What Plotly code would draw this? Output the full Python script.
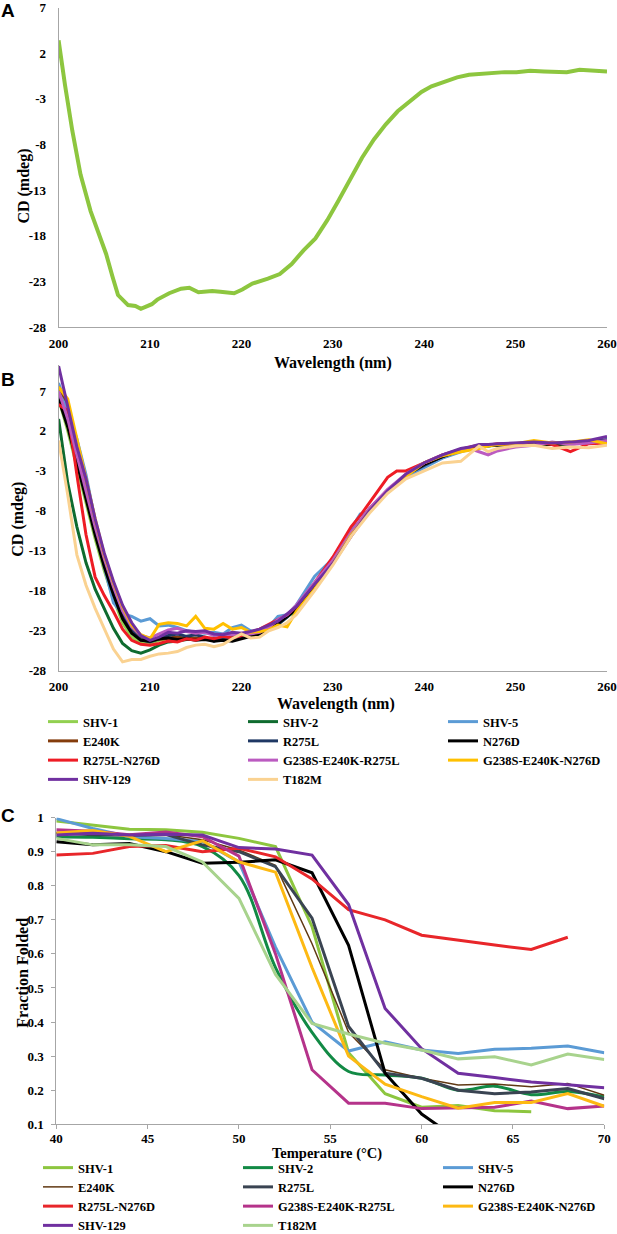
import plotly.graph_objects as go

W, H = 617, 1234

# ---- panel A : SHV-1 far-UV CD spectrum ----
wl_a = [200, 200.3, 200.7, 201.5, 202.4, 203.5, 204.3, 205.2, 205.9, 206.5,
        207.6, 208.4, 209, 210.2, 210.8, 212.1, 213.4, 214.3, 215.3, 216.8,
        217.7, 219.2, 220.1, 221.2, 222.9, 224.2, 225.5, 226.8, 228.1, 229.4,
        230.6, 231.9, 233.2, 234.5, 235.8, 237.1, 238.4, 239.7, 240.8, 242.3,
        243.6, 244.9, 246.2, 247.5, 248.8, 250.1, 251.6, 253.1, 254.4, 255.6,
        257, 258.3, 260]
cd_a = [3.4, 1.1, -1.5, -6.5, -11.3, -15.3, -17.4, -20.0, -22.5, -24.5,
        -25.6, -25.7, -26.0, -25.5, -25.0, -24.3, -23.8, -23.7, -24.2, -24.05,
        -24.15, -24.3, -23.9, -23.25, -22.7, -22.2, -21.1, -19.6, -18.3, -16.3,
        -14.2, -11.8, -9.45, -7.45, -5.8, -4.37, -3.28, -2.26, -1.64, -1.1,
        -0.66, -0.37, -0.26, -0.12, -0.08, -0.08, 0.06, -0.01, -0.04, -0.08,
        0.17, 0.06, -0.01]

# ---- panel B : CD spectra of all variants ----
wl_b = [200, 201, 202, 203, 204, 205, 206, 207, 208, 209, 210, 211, 212, 213,
        214, 215, 216, 217, 218, 219, 220, 221, 222, 223, 224, 225, 226, 228,
        230, 232, 233, 234, 236, 237, 238, 240, 242, 244, 245, 246, 247, 248,
        250, 252, 254, 256, 258, 260]

b_shv1 = [6.0, 2.0, -2.5, -7.0, -11.5, -15.5, -19.0, -22.0, -23.8, -24.5, -24.6, -24.2,
          -24.0, -23.9, -23.8, -24.0, -24.1, -24.0, -24.1, -23.9, -23.7, -23.5, -23.3,
          -22.9, -22.2, -21.3, -20.4, -17.6, -14.5, -11.0, -9.5, -8.0, -5.6, -4.6, -3.6,
          -2.3, -1.3, -0.5, -0.2, 0.0, 0.1, 0.2, 0.3, 0.4, 0.3, 0.4, 0.5, 0.7]
b_shv2 = [3.5, -4.5, -10.0, -14.5, -17.8, -20.3, -22.7, -24.6, -25.5, -25.8, -25.4, -24.8,
          -24.4, -24.3, -24.1, -24.0, -24.0, -23.9, -24.0, -23.8, -23.6, -23.5, -23.4,
          -22.9, -22.1, -21.2, -20.4, -17.5, -14.4, -10.9, -9.4, -7.9, -5.5, -4.6, -3.6,
          -2.3, -1.3, -0.5, -0.2, 0.0, 0.1, 0.3, 0.4, 0.4, 0.3, 0.5, 0.5, 0.8]
b_shv5 = [8.0, 4.5, 1.0, -3.5, -9.5, -15.0, -19.5, -20.9, -21.2, -21.8, -21.5, -22.4,
          -22.3, -22.6, -23.0, -23.2, -23.3, -23.2, -23.4, -22.6, -22.3, -23.0, -23.3,
          -22.5, -21.2, -21.0, -19.8, -16.2, -14.0, -10.3, -8.4, -8.1, -5.6, -4.7, -3.8,
          -2.6, -1.4, -0.6, -0.3, 0.0, 0.2, 0.3, 0.4, 0.5, 0.5, 0.6, 0.7, 0.9]
b_e240k = [7.5, 5.5, 0.5, -4.5, -9.5, -14.0, -17.5, -20.7, -22.8, -23.8, -24.2, -24.1,
           -23.9, -23.8, -24.0, -23.9, -24.0, -24.1, -23.9, -24.0, -23.8, -23.5, -23.3,
           -22.8, -22.0, -21.1, -20.2, -17.3, -14.2, -10.9, -9.4, -7.9, -5.5, -4.5, -3.5,
           -2.2, -1.2, -0.5, -0.2, 0.1, 0.2, 0.3, 0.4, 0.5, 0.4, 0.5, 0.6, 0.8]
b_r275l = [6.5, 3.0, -1.5, -6.0, -10.5, -14.5, -18.0, -21.0, -23.0, -24.1, -24.4, -24.0,
           -23.6, -23.4, -23.7, -23.5, -23.8, -24.3, -23.8, -24.0, -23.8, -23.6, -23.3,
           -22.7, -22.2, -21.3, -20.2, -17.4, -14.4, -10.9, -9.4, -7.8, -5.5, -4.5, -3.5,
           -2.3, -1.2, -0.4, -0.1, 0.1, 0.2, 0.3, 0.4, 0.5, 0.4, 0.5, 0.6, 0.9]
b_n276d = [6.0, 2.5, -2.0, -6.5, -11.0, -15.0, -18.5, -21.5, -23.3, -24.2, -24.3, -24.0,
           -23.9, -24.1, -24.0, -24.2, -24.1, -24.3, -24.2, -24.3, -24.0, -23.7, -23.4,
           -22.8, -22.1, -21.2, -20.3, -17.4, -14.3, -10.8, -9.3, -7.8, -5.4, -4.5, -3.5,
           -2.2, -1.2, -0.4, -0.2, 0.1, 0.2, 0.2, 0.3, 0.4, 0.3, 0.4, 0.5, 0.7]
b_r275l_n276d = [5.3, 4.5, -3.5, -11.0, -16.3, -18.6, -20.6, -22.8, -24.2, -24.7, -24.8, -24.6,
                 -24.3, -24.4, -24.0, -24.2, -23.8, -24.0, -23.7, -23.9, -23.6, -23.2, -22.8,
                 -22.2, -21.6, -21.0, -20.0, -17.0, -13.8, -10.0, -8.6, -7.0, -3.8, -3.0, -3.0,
                 -2.0, -1.0, -0.3, 0.0, 0.2, 0.2, 0.4, 0.3, 0.7, 0.3, -0.6, 0.4, 0.5]
b_g238s_r275l = [7.0, 3.5, -1.0, -5.5, -10.0, -14.0, -17.5, -20.5, -22.5, -23.6, -23.9, -23.4,
                 -22.9, -22.7, -23.1, -23.3, -23.2, -23.6, -23.4, -23.5, -23.3, -23.4, -23.2,
                 -22.6, -21.6, -21.0, -19.8, -17.0, -14.2, -10.7, -9.2, -7.7, -5.3, -4.4, -3.4,
                 -2.0, -1.0, -0.3, -0.2, -0.6, -1.0, -0.5, 0.0, 0.2, 0.6, 0.3, 0.5, 0.8]
b_g238s_n276d = [7.5, 6.0, 1.0, -4.0, -9.0, -13.5, -17.0, -20.0, -22.3, -23.5, -24.0, -22.2,
                 -22.0, -22.1, -22.4, -21.2, -22.7, -22.8, -22.1, -22.8, -22.6, -23.2, -23.1,
                 -22.9, -22.3, -22.5, -20.6, -17.8, -14.6, -11.0, -9.6, -8.0, -5.6, -4.8, -3.7,
                 -2.0, -1.1, -0.6, -0.4, -0.2, 0.1, 0.3, 0.4, 0.8, 0.5, 0.6, 0.9, 0.4]
b_shv129 = [10.1, 5.0, 0.0, -4.0, -9.0, -13.3, -16.8, -19.8, -22.0, -23.6, -24.2, -23.8,
            -23.2, -23.3, -23.0, -23.1, -23.0, -23.4, -23.5, -23.2, -23.3, -23.1, -22.8,
            -22.3, -21.8, -20.9, -20.0, -17.2, -14.6, -11.2, -9.6, -8.0, -5.5, -4.4, -3.4,
            -2.0, -1.0, -0.2, 0.0, 0.3, 0.3, 0.4, 0.5, 0.6, 0.5, 0.6, 0.8, 1.3]
b_t182m = [0.8, -6.0, -13.5, -17.3, -20.2, -22.8, -25.3, -26.9, -26.6, -26.6, -26.2, -25.9,
           -25.8, -25.6, -25.1, -24.8, -24.7, -25.0, -24.7, -24.0, -23.4, -23.9, -23.8,
           -23.0, -22.6, -22.0, -21.0, -18.0, -14.8, -11.2, -9.8, -8.3, -5.8, -4.9, -4.0,
           -3.0, -2.0, -1.8, -0.8, 0.1, -0.6, -0.2, 0.1, 0.2, -0.2, 0.0, -0.1, 0.2]

# ---- panel C : thermal denaturation ----
temps = [40, 42, 44, 46, 48, 50, 52, 54, 56, 58, 60, 62, 64, 66, 68, 70]

c_shv1 = [0.99, 0.978, 0.966, 0.964, 0.957, 0.939, 0.915, 0.68, 0.31, 0.19, 0.15, 0.155, 0.14, 0.137]
c_shv2 = [0.944, 0.942, 0.938, 0.935, 0.915, 0.83, 0.56, 0.37, 0.255, 0.245, 0.235, 0.2, 0.212, 0.187, 0.196, 0.18]
c_shv5 = [0.997, 0.968, 0.944, 0.939, 0.93, 0.87, 0.62, 0.40, 0.315, 0.342, 0.318, 0.308, 0.32, 0.323, 0.33, 0.31]
c_e240k = [0.955, 0.955, 0.95, 0.95, 0.935, 0.905, 0.86, 0.63, 0.37, 0.26, 0.235, 0.215, 0.218, 0.21, 0.22, 0.185]
c_r275l = [0.955, 0.95, 0.948, 0.95, 0.92, 0.9, 0.856, 0.705, 0.387, 0.25, 0.235, 0.2, 0.19, 0.195, 0.205, 0.175]
c_n276d = [0.929, 0.92, 0.924, 0.9, 0.866, 0.869, 0.876, 0.838, 0.625, 0.25, 0.13, 0.055]
c_r275l_n276d = [0.89, 0.895, 0.915, 0.918, 0.9, 0.91, 0.885, 0.82, 0.73, 0.70, 0.655, 0.64, 0.626, 0.613, 0.649]
c_g238s_r275l = [0.964, 0.96, 0.95, 0.958, 0.944, 0.887, 0.60, 0.26, 0.162, 0.162, 0.146, 0.147, 0.15, 0.168, 0.146, 0.154]
c_g238s_n276d = [0.955, 0.962, 0.945, 0.90, 0.932, 0.87, 0.84, 0.56, 0.30, 0.218, 0.181, 0.147, 0.164, 0.164, 0.19, 0.153]
c_shv129 = [0.949, 0.954, 0.949, 0.951, 0.949, 0.912, 0.908, 0.89, 0.745, 0.44, 0.322, 0.25, 0.237, 0.224, 0.216, 0.207]
c_t182m = [0.939, 0.92, 0.92, 0.915, 0.87, 0.763, 0.54, 0.396, 0.365, 0.338, 0.318, 0.292, 0.298, 0.274, 0.306, 0.29]

names = ["SHV-1", "SHV-2", "SHV-5", "E240K", "R275L", "N276D", "R275L-N276D",
         "G238S-E240K-R275L", "G238S-E240K-N276D", "SHV-129", "T182M"]

colors_b = ["#92D050", "#0F6B2F", "#5B9BD5", "#843C0C", "#1F3864", "#000000",
            "#EE1C25", "#BB5BC0", "#FFC000", "#7030A0", "#FAD291"]
colors_c = ["#8DC63F", "#128A45", "#5B9BD5", "#603913", "#3A4452", "#000000",
            "#E8262A", "#B5338A", "#FDB913", "#7030A0", "#A8D38D"]

b_series = [b_shv1, b_shv2, b_shv5, b_e240k, b_r275l, b_n276d, b_r275l_n276d,
            b_g238s_r275l, b_g238s_n276d, b_shv129, b_t182m]
c_series = [c_shv1, c_shv2, c_shv5, c_e240k, c_r275l, c_n276d, c_r275l_n276d,
            c_g238s_r275l, c_g238s_n276d, c_shv129, c_t182m]

ticks_cd = [-28, -23, -18, -13, -8, -3, 2, 7]
ticks_wl = [200, 210, 220, 230, 240, 250, 260]
ticks_ff = [0.1, 0.2, 0.3, 0.4, 0.5, 0.6, 0.7, 0.8, 0.9, 1.0]
ticks_t = [40, 45, 50, 55, 60, 65, 70]


def px(x):
    return x / W


def py(y):
    return 1 - y / H


SERIF = "Liberation Serif, Times New Roman, DejaVu Serif, serif"
tick_font = dict(family=SERIF, size=13, color="black", weight="bold")
leg_font = dict(family=SERIF, size=12.5, color="black", weight="bold")

fig = go.Figure()

fig.add_trace(go.Scatter(x=wl_a, y=cd_a, mode="lines", showlegend=False,
                         line=dict(color="#8DC63F", width=4), xaxis="x", yaxis="y"))

for name, ys, col in zip(names, b_series, colors_b):
    fig.add_trace(go.Scatter(x=wl_b, y=ys, mode="lines", name=name, legend="legend",
                             line=dict(color=col, width=3), xaxis="x2", yaxis="y2"))

for name, ys, col in zip(names, c_series, colors_c):
    w = 1.5 if name == "E240K" else 3
    shape = "spline" if name == "SHV-2" else "linear"
    fig.add_trace(go.Scatter(x=temps[:len(ys)], y=ys, mode="lines", name=name, legend="legend2",
                             line=dict(color=col, width=w, shape=shape),
                             xaxis="x3", yaxis="y3"))

ax = dict(showgrid=False, zeroline=False, showline=True, linecolor="#A6A6A6",
          linewidth=1, tickfont=tick_font, fixedrange=True, ticklabeloverflow="allow")

fig.update_layout(
    width=W, height=H,
    margin=dict(l=0, r=0, t=0, b=0, autoexpand=False),
    paper_bgcolor="white", plot_bgcolor="white",
    xaxis=dict(ax, domain=[px(58.6), px(607)], range=[200, 260], tickvals=ticks_wl,
               ticktext=[str(v) for v in ticks_wl], ticks="", ticklabelstandoff=4, anchor="y"),
    yaxis=dict(ax, domain=[py(327), py(7.5)], range=[-28, 7], tickvals=ticks_cd,
               ticktext=[str(v) for v in ticks_cd], ticks="", ticklabelstandoff=9, anchor="x"),
    xaxis2=dict(ax, domain=[px(58.6), px(607)], range=[200, 260], tickvals=ticks_wl,
                ticktext=[str(v) for v in ticks_wl], ticks="", ticklabelstandoff=4, anchor="y2"),
    yaxis2=dict(ax, domain=[py(670.7), py(364.6)], range=[-28, 10.3], tickvals=ticks_cd,
                ticktext=[str(v) for v in ticks_cd], ticks="", ticklabelstandoff=9, anchor="x2"),
    xaxis3=dict(ax, domain=[px(56.3), px(604.3)], range=[40, 70], tickvals=ticks_t,
                ticktext=[str(v) for v in ticks_t], ticks="outside", ticklen=4,
                tickcolor="#A6A6A6", ticklabelstandoff=-2, anchor="y3"),
    yaxis3=dict(ax, domain=[py(1124.3), py(817.6)], range=[0.1, 1.0], tickvals=ticks_ff,
                ticktext=["0.1", "0.2", "0.3", "0.4", "0.5", "0.6", "0.7", "0.8", "0.9", "1"],
                ticks="outside", ticklen=4, tickcolor="#A6A6A6", ticklabelstandoff=5, anchor="x3"),
    legend=dict(orientation="h", x=px(43), y=py(707), xanchor="left", yanchor="top",
                entrywidth=155, font=leg_font, bgcolor="rgba(0,0,0,0)",
                traceorder="normal", itemwidth=30, tracegroupgap=0),
    legend2=dict(orientation="h", x=px(38), y=py(1153), xanchor="left", yanchor="top",
                 entrywidth=155, font=leg_font, bgcolor="rgba(0,0,0,0)",
                 traceorder="normal", itemwidth=30, tracegroupgap=0),
)

title_font = dict(family=SERIF, size=16, color="black", weight="bold")
letter_font = dict(family="Liberation Sans, Arial, sans-serif", size=19, color="black", weight="bold")

notes = [
    ("A", 8, 11, 0, letter_font),
    ("B", 8, 379.5, 0, letter_font),
    ("C", 8, 815, 0, letter_font),
    ("Wavelength (nm)", 333, 363, 0, title_font),
    ("CD (mdeg)", 23.6, 186, -90, title_font),
    ("Wavelength (nm)", 336, 704, 0, title_font),
    ("CD (mdeg)", 17.7, 519, -90, title_font),
    ("Temperature (°C)", 327, 1153, 0, dict(title_font, size=14.5)),
    ("Fraction Folded", 21.7, 973, -90, title_font),
]
for text, x, y, ang, f in notes:
    fig.add_annotation(text=text, x=px(x), y=py(y), xref="paper", yref="paper",
                       xanchor="center", yanchor="middle", showarrow=False,
                       textangle=ang, font=f)

# the page's default body margin would shift the figure by 8px
fig.write_html("out.html", config={"displayModeBar": False},
               post_script="document.body.style.margin='0';")
